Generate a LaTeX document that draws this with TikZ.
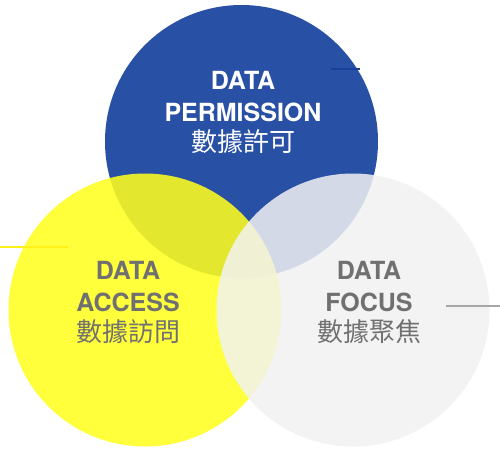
\documentclass[tikz,border=0pt]{standalone}
\usepackage{fontspec}
\setmainfont{TeX Gyre Heros}
\newfontfamily\cjk{Noto Sans CJK TC}
\definecolor{permblue}{HTML}{2850A5}
\definecolor{tickblue}{HTML}{1C3F9A}
\definecolor{accyellow}{HTML}{FFFF1E}
\definecolor{focgray}{HTML}{F2F2F2}
\definecolor{txtgray}{HTML}{707070}

\begin{document}
\begin{tikzpicture}[
  x=1pt,y=-1pt,
  disc/.style={circle,inner sep=0pt,minimum size=273pt},
  title/.style={inner sep=0pt,anchor=base,font=\fontsize{25}{30}\selectfont\bfseries},
  zh/.style={inner sep=0pt,anchor=base,font=\fontsize{26}{30}\selectfont\cjk},
  tick/.style={line width=1.3pt}
]
\useasboundingbox (0,0) rectangle (500,452);
\fill[white] (0,0) rectangle (500,452);
% the three circles
\node[disc,fill=permblue] (perm) at (241.5,141.5) {};
\node[disc,fill=accyellow,fill opacity=.87] (access) at (145,310) {};
\node[disc,fill=focgray,fill opacity=.85] (focus) at (353,310) {};
% labels
\foreach \nm/\x/\y/\word/\zhtext/\col in {%
    perm/243/89/PERMISSION/數據許可/white,
    access/128/279/ACCESS/數據訪問/txtgray,
    focus/369/279/FOCUS/數據聚焦/txtgray} {
  \node[title,text=\col] (\nm-a) at (\x,\y) {DATA};
  \node[title,text=\col] (\nm-b) at (\x,\y+32) {\word};
  \node[zh,text=\col] (\nm-c) at (\x,\y+62) {\zhtext};
}
% short marks
\coordinate (pa) at (331,69);
\coordinate (pb) at (360,69);
\coordinate (aa) at (0,247);
\coordinate (ab) at (68,247);
\coordinate (fa) at (446,306);
\coordinate (fb) at (500,306);
\draw[tickblue,tick] (pa) -- (pb);
\draw[accyellow!90!orange,tick] (aa) -- (ab);
\draw[black!35,tick] (fa) -- (fb);
\end{tikzpicture}
\end{document}
